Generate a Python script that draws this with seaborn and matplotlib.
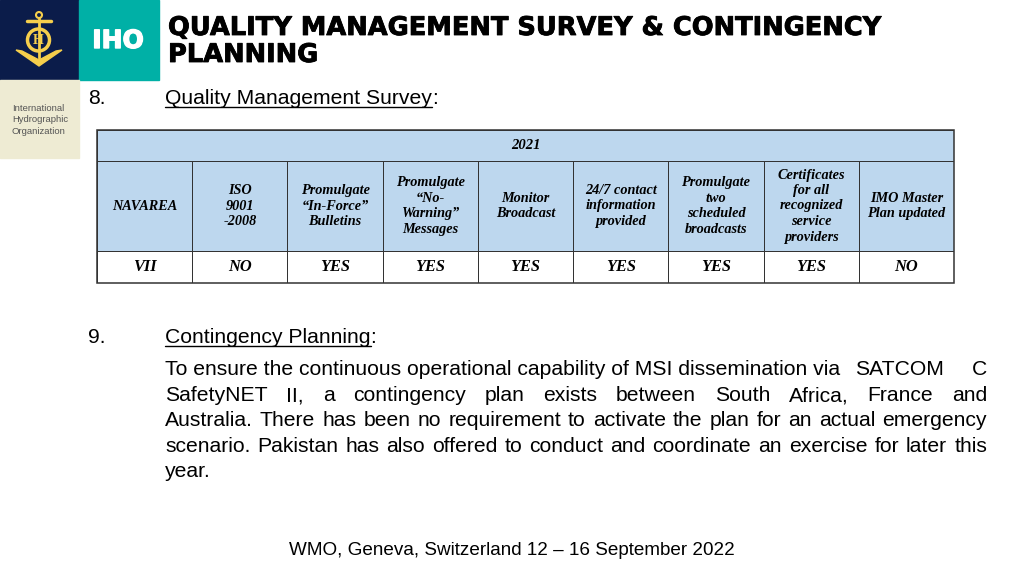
import seaborn as sns
import pandas as pd
import matplotlib.pyplot as plt
import matplotlib
import numpy as np
from matplotlib.colors import ListedColormap
from matplotlib.patches import Rectangle, Circle, Polygon
import matplotlib.patheffects as pe

sns.set_style('white')
plt.rcParams['font.family'] = ['Liberation Sans', 'DejaVu Sans']
plt.rcParams['text.color'] = 'black'

navy = '#0B1C4A'
teal = '#00B0A6'
beige = '#EEEBD3'
gold = '#F6CF4C'
blue = '#BDD7EE'

year = "2021"
columns = ["NAVAREA", "ISO\n9001\n-2008", "Promulgate\n“In-Force”\nBulletins",
           "Promulgate\n“No-\nWarning”\nMessages", "Monitor\nBroadcast",
           "24/7 contact\ninformation\nprovided", "Promulgate\ntwo\nscheduled\nbroadcasts",
           "Certificates\nfor all\nrecognized\nservice\nproviders", "IMO Master\nPlan updated"]
answers = ["VII", "NO", "YES", "YES", "YES", "YES", "YES", "YES", "NO"]

paragraph = [
    "SafetyNET II, a contingency plan exists between South Africa, France and",
    "Australia. There has been no requirement to activate the plan for an actual emergency",
    "scenario. Pakistan has also offered to conduct and coordinate an exercise for later this",
]

W, H = 1024, 576
fig = plt.figure(figsize=(W / 100, H / 100), dpi=100)
ax = fig.add_axes([0, 0, 1, 1])
ax.set_xlim(0, W)
ax.set_ylim(H, 0)
ax.axis('off')
renderer = fig.canvas.get_renderer()
heavy = [pe.withStroke(linewidth=0.6, foreground='black')]


def px_axes(x0, y0, x1, y1):
    return fig.add_axes([x0 / W, 1 - y1 / H, (x1 - x0) / W, (y1 - y0) / H])


# logo block
ax.add_patch(Rectangle((0, 0), 79, 80, color=navy))
ax.add_patch(Rectangle((79, 0), 80, 80, color=teal))
ax.add_patch(Rectangle((0, 80), 79, 78, color=beige))
ax.text(118, 41, "IHO", color='white', fontsize=18, fontweight='bold',
        family='DejaVu Sans', ha='center', va='center',
        path_effects=[pe.withStroke(linewidth=1, foreground='white')])
ax.text(12, 120, "International\nHydrographic\nOrganization", color='#555555',
        fontsize=6.8, ha='left', va='center', linespacing=1.3)
ax.add_patch(Circle((39, 15), 3, fill=False, ec=gold, lw=1.5))
ax.plot([27, 51], [21, 21], color=gold, lw=2.5, solid_capstyle='round')
ax.plot([39, 39], [18, 58], color=gold, lw=2)
ax.add_patch(Circle((38.5, 40), 11, fill=False, ec=gold, lw=2.5))
ax.text(38.5, 40.5, "H", color=gold, fontsize=10, fontweight='bold',
        ha='center', va='center', family='Liberation Serif')
ax.add_patch(Polygon([(16, 50), (39, 66), (62, 50), (56, 51), (39, 60), (22, 51)],
                     closed=True, color=gold))

# title
for y, line in [(35, "QUALITY MANAGEMENT SURVEY & CONTINGENCY"), (62, "PLANNING")]:
    ax.text(168, y, line, family='DejaVu Sans', fontweight='bold',
            fontsize=18.5, va='baseline', path_effects=heavy)


def underlined(x, y, label, size=15.2):
    t = ax.text(x, y, label, fontsize=size, va='baseline')
    w = t.get_window_extent(renderer).width
    ax.plot([x, x + w], [y + 2.5, y + 2.5], color='black', lw=1)
    ax.text(x + w, y, ":", fontsize=size, va='baseline')


ax.text(88, 104, "8.", fontsize=15.2, va='baseline')
underlined(165, 104, "Quality Management Survey")

# table
cell_font = dict(family='Liberation Serif', fontstyle='italic', fontweight='bold',
                 color='black')
grid = dict(cbar=False, xticklabels=False, yticklabels=False, fmt='',
            linewidths=0.6, linecolor='#333333')

ax_year = px_axes(97, 130, 954, 161)
sns.heatmap(np.zeros((1, 1)), ax=ax_year, cmap=ListedColormap([blue]),
            annot=np.array([[year]]), annot_kws=dict(fontsize=10.5, **cell_font), **grid)

ax_head = px_axes(97, 161, 954, 251)
sns.heatmap(np.zeros((1, len(columns))), ax=ax_head, cmap=ListedColormap([blue]),
            annot=np.array([columns]),
            annot_kws=dict(fontsize=10.3, linespacing=1.25, **cell_font), **grid)

ax_row = px_axes(97, 251, 954, 283)
sns.heatmap(np.zeros((1, len(answers))), ax=ax_row, cmap=ListedColormap(['white']),
            annot=np.array([answers]), annot_kws=dict(fontsize=11.8, **cell_font), **grid)

fig.add_artist(Rectangle((97 / W, 1 - 283 / H), 857 / W, 153 / H, fill=False,
                         ec='#333333', lw=1.1, transform=fig.transFigure))

# contingency planning
ax.text(88, 343, "9.", fontsize=15.2, va='baseline')
underlined(165, 343, "Contingency Planning")

x0, x1 = 165, 987
ax.text(x0, 375, "To ensure the continuous operational capability of MSI dissemination via",
        fontsize=15.2, va='baseline')
ax.text(855, 375, "SATCOM", fontsize=15.2, va='baseline')
ax.text(x1, 375, "C", fontsize=15.2, va='baseline', ha='right')

for i, line in enumerate(paragraph):
    y = 401 + i * 25.5
    words = line.split()
    texts = [ax.text(0, y, wd, fontsize=15.2, va='baseline') for wd in words]
    widths = [t.get_window_extent(renderer).width for t in texts]
    gap = (x1 - x0 - sum(widths)) / (len(words) - 1)
    x = x0
    for t, w in zip(texts, widths):
        t.set_x(x)
        x += w + gap

ax.text(x0, 477, "year.", fontsize=15.2, va='baseline')

ax.text(512, 555, "WMO, Geneva, Switzerland 12 – 16 September 2022", fontsize=13.6,
        va='baseline', ha='center')

fig.savefig("out.png", dpi=100)
